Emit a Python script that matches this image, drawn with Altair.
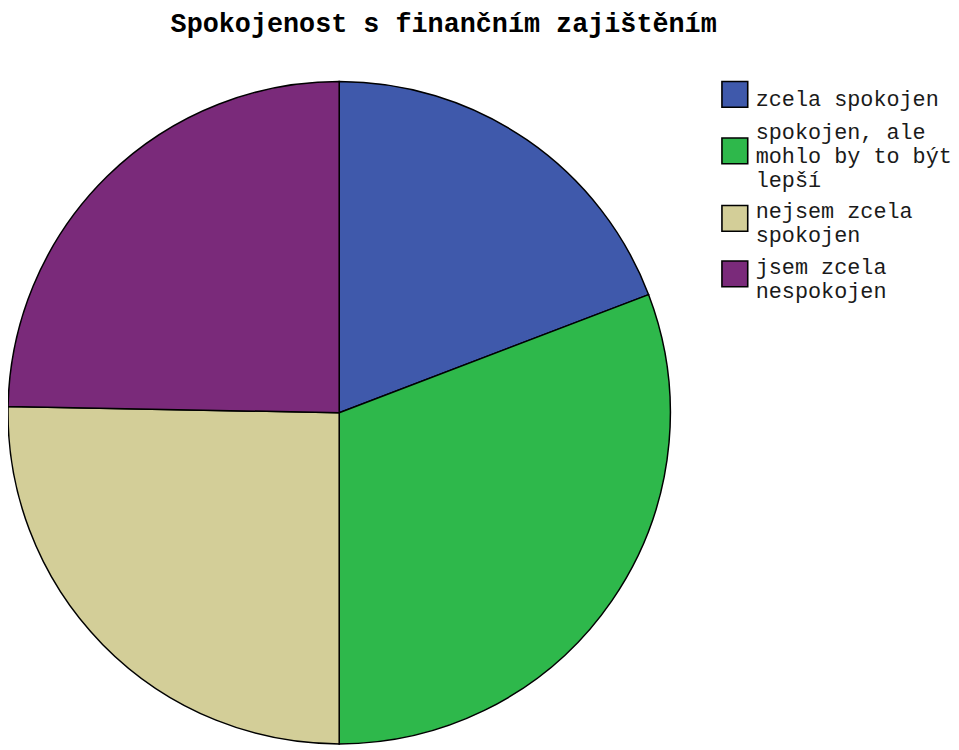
import altair as alt
import pandas as pd

title_text = "Spokojenost s finančním zajištěním"
categories = ["zcela spokojen", "spokojen, ale mohlo by to být lepší", "nejsem zcela spokojen", "jsem zcela nespokojen"]
values = [19.2, 30.8, 25.3, 24.7]
colors = ["#3F59AB", "#2EB84B", "#D3CE98", "#7A2A7A"]
label_lines = [
    ["zcela spokojen"],
    ["spokojen, ale", "mohlo by to být", "lepší"],
    ["nejsem zcela", "spokojen"],
    ["jsem zcela", "nespokojen"],
]

df = pd.DataFrame({"kategorie": categories, "hodnota": values, "poradi": list(range(len(categories)))})
title_df = pd.DataFrame({"t": [title_text]})

# multi-line legend labels
label_expr = " : ".join(
    f"datum.label == {c!r} ? {lines!r}" for c, lines in zip(categories, label_lines)
) + " : datum.label"

# legend squares, moved down to sit at the middle of a multi-line label
SYM_PX = 13.0   # half side of the legend square in px
LINE_PX = 24.0  # label line height in px
shapes = []
for lines in label_lines:
    d = ((len(lines) - 1) * LINE_PX / 2 - 5.0) / SYM_PX
    shapes.append(f"M-1,{d - 1:.3f}H1V{d + 1:.3f}H-1Z")

legend = alt.Legend(
    title=None,
    orient="none",
    legendX=719,
    legendY=75,
    symbolSize=676,
    symbolStrokeColor="black",
    symbolStrokeWidth=1.6,
    symbolOpacity=1,
    labelFont="Liberation Mono",
    labelFontSize=22,
    labelColor="#1a1a1a",
    labelLimit=400,
    labelExpr=label_expr,
    rowPadding=7,
    labelOffset=7,
)

fill = alt.Fill("kategorie:N", scale=alt.Scale(domain=categories, range=colors), sort=categories, legend=legend)
shape = alt.Shape("kategorie:N", scale=alt.Scale(domain=categories, range=shapes), sort=categories, legend=legend)
stroke = alt.Stroke("kategorie:N", scale=alt.Scale(domain=categories, range=["black"] * len(categories)), sort=categories, legend=legend)

pie = alt.Chart(df).mark_arc(radius=334, stroke="black", strokeWidth=1.5).encode(
    theta=alt.Theta("hodnota:Q", stack=True),
    order=alt.Order("poradi:Q"),
    fill=fill,
    x=alt.value(334),
    y=alt.value(405),
)

# off-canvas points that only feed the legend its square keys
legend_keys = alt.Chart(df).mark_point(filled=True, size=676, opacity=1, strokeWidth=1.6).encode(
    fill=fill,
    shape=shape,
    stroke=stroke,
    x=alt.value(-200),
    y=alt.value(-200),
)

title = alt.Chart(title_df).mark_text(
    font="Liberation Mono",
    fontSize=27,
    fontWeight="bold",
    color="black",
    align="left",
    baseline="alphabetic",
).encode(text="t:N", x=alt.value(164), y=alt.value(21))

chart = alt.layer(pie, legend_keys, title).properties(
    width=951,
    height=742,
    padding=0,
    autosize=alt.AutoSizeParams(type="none"),
).configure_view(stroke=None).configure_legend(
    symbolStrokeColor="black",
    symbolStrokeWidth=1.6,
)

chart.save("out.html", embed_options={"renderer": "svg", "actions": False})
